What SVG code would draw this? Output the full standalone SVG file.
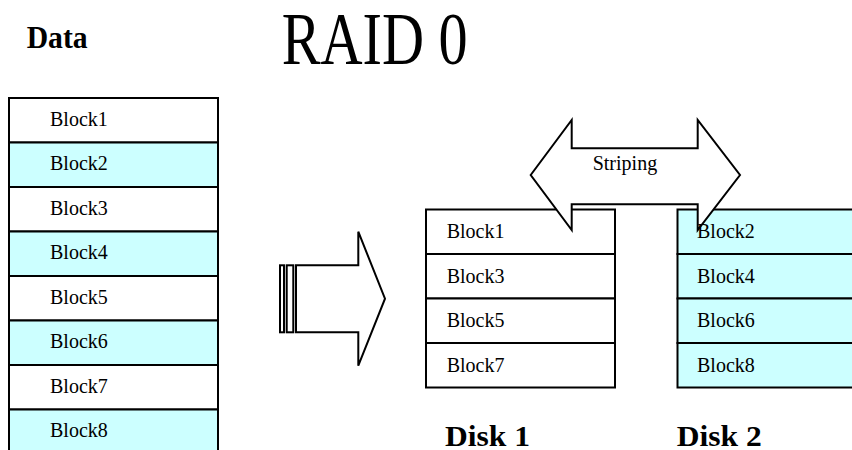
<svg xmlns="http://www.w3.org/2000/svg" width="852" height="450" viewBox="0 0 852 450">
<style>
.w{fill:#ffffff;stroke:#000;stroke-width:2}
.c{fill:#ccffff;stroke:#000;stroke-width:2}
.t{font-family:"Liberation Serif","Times New Roman",serif;font-size:20px;fill:#000}
.b{font-family:"Liberation Serif","Times New Roman",serif;font-weight:bold;fill:#000}
.a{fill:#ffffff;stroke:#000;stroke-width:2;stroke-linejoin:miter}
</style>
<rect width="852" height="450" fill="#ffffff"/>
<g id="title">
<text x="281.7" y="64" font-family="Liberation Serif, Times New Roman, serif" font-size="74" textLength="186" lengthAdjust="spacingAndGlyphs">RAID 0</text>
</g>
<g id="data-label">
<text class="b" x="26.7" y="47.7" font-size="31" textLength="61" lengthAdjust="spacingAndGlyphs">Data</text>
</g>
<g id="data-column">
<rect class="w" x="9" y="98" width="209" height="44.5"/>
<rect class="c" x="9" y="142.5" width="209" height="44.5"/>
<rect class="w" x="9" y="187" width="209" height="44.5"/>
<rect class="c" x="9" y="231.5" width="209" height="44.5"/>
<rect class="w" x="9" y="276" width="209" height="44.5"/>
<rect class="c" x="9" y="320.5" width="209" height="44.5"/>
<rect class="w" x="9" y="365" width="209" height="44.5"/>
<rect class="c" x="9" y="409.5" width="209" height="44.5"/>
<text class="t" x="50" y="125.5">Block1</text>
<text class="t" x="50" y="170">Block2</text>
<text class="t" x="50" y="214.5">Block3</text>
<text class="t" x="50" y="259">Block4</text>
<text class="t" x="50" y="303.5">Block5</text>
<text class="t" x="50" y="348">Block6</text>
<text class="t" x="50" y="392.5">Block7</text>
<text class="t" x="50" y="437">Block8</text>
</g>
<g id="disk1">
<rect class="w" x="426" y="209.5" width="189" height="44.5"/>
<rect class="w" x="426" y="254" width="189" height="44.5"/>
<rect class="w" x="426" y="298.5" width="189" height="44.5"/>
<rect class="w" x="426" y="343" width="189" height="44.5"/>
</g>
<g id="disk2">
<rect class="c" x="677.5" y="209.5" width="189" height="44.5"/>
<rect class="c" x="677.5" y="254" width="189" height="44.5"/>
<rect class="c" x="677.5" y="298.5" width="189" height="44.5"/>
<rect class="c" x="677.5" y="343" width="189" height="44.5"/>
</g>
<g id="connectors">
<g id="transfer-arrow">
<rect class="a" x="280" y="265.3" width="4" height="67"/>
<rect class="a" x="286.7" y="265.3" width="6.6" height="67"/>
<polygon class="a" points="296,265.3 358.3,265.3 358.3,231.7 385,298.7 358.3,365.7 358.3,332.3 296,332.3"/>
</g>
<g id="striping-arrow">
<polygon class="a" points="530.7,175 571.7,120 571.7,148.3 697.7,148.3 697.7,120 740,175 697.7,230 697.7,204.3 571.7,204.3 571.7,230"/>
<text class="t" x="592.7" y="170">Striping</text>
</g>
</g>
<g id="disk1-text">
<text class="t" x="446.7" y="238.3">Block1</text>
<text class="t" x="446.7" y="282.8">Block3</text>
<text class="t" x="446.7" y="327.3">Block5</text>
<text class="t" x="446.7" y="371.8">Block7</text>
<text class="b" x="445" y="446" font-size="29" textLength="85" lengthAdjust="spacingAndGlyphs">Disk 1</text>
</g>
<g id="disk2-text">
<text class="t" x="697" y="238.3">Block2</text>
<text class="t" x="697" y="282.8">Block4</text>
<text class="t" x="697" y="327.3">Block6</text>
<text class="t" x="697" y="371.8">Block8</text>
<text class="b" x="676.7" y="446" font-size="29" textLength="85" lengthAdjust="spacingAndGlyphs">Disk 2</text>
</g>
</svg>
